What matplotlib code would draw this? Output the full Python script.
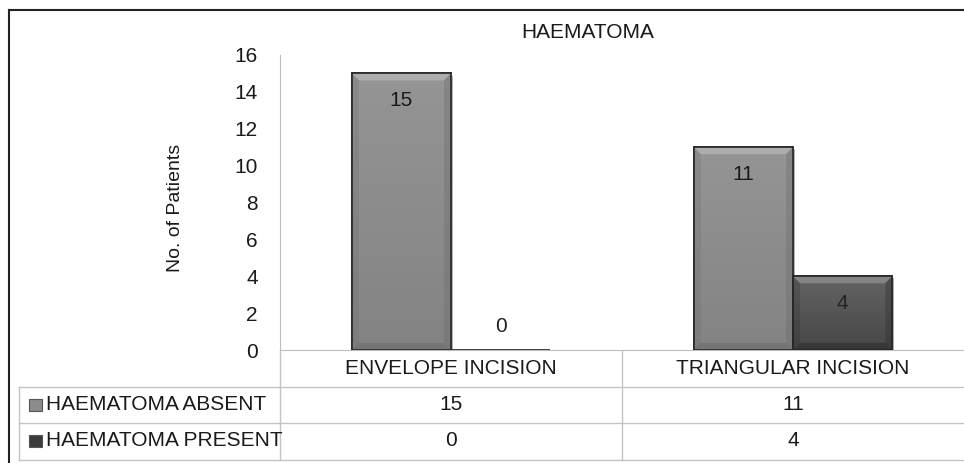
import numpy as np
import matplotlib
matplotlib.use('Agg')
import matplotlib.pyplot as plt
from matplotlib.lines import Line2D
from matplotlib.patches import Rectangle, Polygon
import matplotlib.patheffects as pe

categories = ['ENVELOPE INCISION', 'TRIANGULAR INCISION']
series_names = ['HAEMATOMA ABSENT', 'HAEMATOMA PRESENT']
absent = [15, 11]
present = [0, 4]
yticks = [0, 2, 4, 6, 8, 10, 12, 14, 16]

plt.rcParams['font.family'] = ['Liberation Sans', 'DejaVu Sans']
FS = 15

W, H = 964, 463
fig = plt.figure(figsize=(W / 100, H / 100), dpi=100)

def fx(x):
    return x / W

def fy(y):
    return 1 - y / H

# plot area in pixels: x 280..964, y 55..350
ax = fig.add_axes([fx(280), fy(350), fx(964) - fx(280), fy(55) - fy(350)])
ax.set_xlim(-0.5, 1.5)
ax.set_ylim(0, 16)

x = np.arange(len(categories))
w = 0.29
shadow = [pe.SimplePatchShadow(offset=(1.5, -1.5), alpha=0.35), pe.Normal()]
b1 = ax.bar(x - w / 2, absent, w, color='#8c8c8c', edgecolor='#2e2e2e', linewidth=1.2,
            path_effects=shadow, zorder=3)
b2 = ax.bar(x + w / 2, present, w, color='#505050', edgecolor='#1e1e1e', linewidth=1.2,
            path_effects=shadow, zorder=3)

# gradient + bevel look on the bars
grad = np.linspace(1, 0, 256).reshape(-1, 1)
dx = 7 / 342.0   # bevel size in data units
dy = 7 / 18.4
styles = {0: ('#959595', '#838383', '#b4b4b4', '#6a6a6a'),
          1: ('#646464', '#464646', '#8e8e8e', '#2c2c2c')}
for k, bars in enumerate((b1, b2)):
    top_c, bot_c, light, dark = styles[k]
    cm = matplotlib.colors.LinearSegmentedColormap.from_list('g', [bot_c, top_c])
    for r in bars:
        if r.get_height() <= 0:
            continue
        x0, y0 = r.get_x(), r.get_y()
        x1, y1 = x0 + r.get_width(), y0 + r.get_height()
        im = ax.imshow(grad, cmap=cm, aspect='auto', extent=[x0, x1, y0, y1], zorder=3.5)
        im.set_clip_path(r)
        ax.add_patch(Polygon([(x0, y1), (x1, y1), (x1 - dx, y1 - dy), (x0 + dx, y1 - dy)],
                             facecolor=light, edgecolor='none', alpha=0.8, zorder=3.6))
        ax.add_patch(Polygon([(x0, y0), (x1, y0), (x1 - dx, y0 + dy), (x0 + dx, y0 + dy)],
                             facecolor=dark, edgecolor='none', alpha=0.6, zorder=3.6))
        ax.add_patch(Polygon([(x1, y0), (x1, y1), (x1 - dx, y1 - dy), (x1 - dx, y0 + dy)],
                             facecolor=dark, edgecolor='none', alpha=0.35, zorder=3.6))
        ax.add_patch(Polygon([(x0, y0), (x0, y1), (x0 + dx, y1 - dy), (x0 + dx, y0 + dy)],
                             facecolor=dark, edgecolor='none', alpha=0.25, zorder=3.6))
        ax.add_patch(Rectangle((x0, y0), r.get_width(), r.get_height(), fill=False,
                               edgecolor='#262626', linewidth=1.2, zorder=4))
ax.set_xlim(-0.5, 1.5)
ax.set_ylim(0, 16)

for i in range(len(categories)):
    for v, xx, c in ((absent[i], x[i] - w / 2, '#1a1a1a'), (present[i], x[i] + w / 2, '#222222')):
        off = -27 if v > 0 else 24
        ax.annotate(str(v), (xx, v), xytext=(0, off), textcoords='offset pixels',
                    ha='center', va='center', fontsize=FS, color=c, zorder=5)

ax.set_yticks(yticks)
ax.set_xticks([])
ax.tick_params(axis='y', length=0, pad=16, labelsize=FS, labelcolor='#1a1a1a')
for s in ('top', 'right'):
    ax.spines[s].set_visible(False)
ax.spines['left'].set_color('#bdbdbd')
ax.spines['bottom'].set_color('#bdbdbd')
ax.set_facecolor('none')

fig.text(fx(176), fy(208), 'No. of Patients', rotation=90, ha='center', va='center',
         fontsize=14, color='#1a1a1a')
fig.text(fx(588), fy(33), 'HAEMATOMA', ha='center', va='center', fontsize=FS, color='#1a1a1a')

# outer frame (cropped on right and bottom)
fig.add_artist(Line2D([fx(9), fx(9)], [fy(10), fy(463)], color='#222222', lw=1.5))
fig.add_artist(Line2D([fx(9), fx(964)], [fy(10), fy(10)], color='#222222', lw=1.5))

# data table
gc = '#c4c4c4'
for yy in (387, 423, 460):
    fig.add_artist(Line2D([fx(19), fx(964)], [fy(yy), fy(yy)], color=gc, lw=1))
fig.add_artist(Line2D([fx(19), fx(19)], [fy(387), fy(460)], color=gc, lw=1))
for xx in (280, 622):
    fig.add_artist(Line2D([fx(xx), fx(xx)], [fy(350), fy(460)], color=gc, lw=1))

col_cx = [451, 793]
for i, c in enumerate(categories):
    fig.text(fx(col_cx[i]), fy(368), c, ha='center', va='center', fontsize=FS, color='#1a1a1a')

row_cy = [405, 441]
mark_cols = ['#8c8c8c', '#3a3a3a']
for j, (name, vals) in enumerate(zip(series_names, (absent, present))):
    fig.add_artist(Rectangle((fx(29), fy(row_cy[j] + 6)), fx(13), fy(0) - fy(12),
                             transform=fig.transFigure, facecolor=mark_cols[j],
                             edgecolor='#555555', lw=0.8))
    fig.text(fx(46), fy(row_cy[j]), name, ha='left', va='center', fontsize=FS, color='#1a1a1a')
    for i, v in enumerate(vals):
        fig.text(fx(col_cx[i]), fy(row_cy[j]), str(v), ha='center', va='center',
                 fontsize=FS, color='#1a1a1a')

fig.savefig('out.png', dpi=100, facecolor='white')
